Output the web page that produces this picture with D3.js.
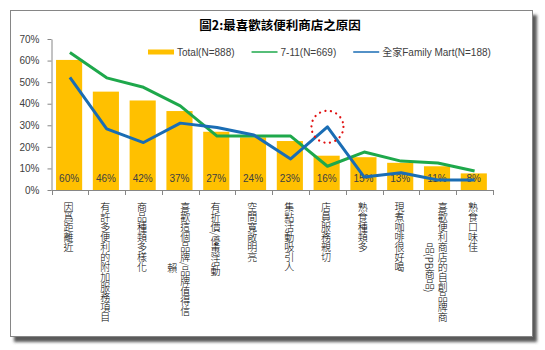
<!DOCTYPE html>
<html><head><meta charset="utf-8">
<script src="https://cdn.jsdelivr.net/npm/d3@7"></script>
<style>
html,body{margin:0;padding:0;background:#fff;}
svg{display:block;}
</style></head>
<body>
<svg id="chart" width="545" height="350"></svg>
<script>
const title = "圖2:最喜歡該便利商店之原因";
const categories = ["因爲距離近","有許多便利的附加服務項目","商品種類多樣化","喜歡這個品牌/品牌值得信賴","有折價/優惠活動","空間寬敞明亮","集點活動吸引人","店員服務親切","熟食種類多","現煮咖啡很好喝","喜歡便利商店的自創品牌商品(PB商品)","熟食口味佳"];
const total  = [60.3, 45.6, 41.5, 36.6, 27.0, 24.4, 22.7, 15.9, 15.2, 12.6, 11.0, 7.7];
const seven  = [63.7, 52.0, 47.6, 39.0, 25.0, 25.0, 25.0, 11.0, 17.6, 13.4, 12.5, 8.8];
const family = [52.2, 28.3, 22.0, 31.0, 29.0, 25.5, 14.4, 29.3, 6.0, 8.0, 4.6, 4.6];
const seriesNames = ["Total(N=888)", "7-11(N=669)", "全家Family Mart(N=188)"];
const yTicks = [0, 10, 20, 30, 40, 50, 60, 70];
const highlightIndex = 7;

const colors = {bar:"#FFC000", seven:"#1EA84B", family:"#1A6DB4", axis:"#868686", text:"#404040"};
const latin = "'Liberation Sans','Noto Sans CJK TC',sans-serif";
const cjk = "'Noto Sans CJK TC','Liberation Sans',sans-serif";

const svg = d3.select("#chart");

// frame with shadow
const defs = svg.append("defs");
const f = defs.append("filter").attr("id","sh").attr("x","-5%").attr("y","-5%").attr("width","115%").attr("height","115%");
f.append("feDropShadow").attr("dx",4).attr("dy",5).attr("stdDeviation",1.4).attr("flood-color","#4a4a4a").attr("flood-opacity",0.9);
svg.append("rect").attr("x",10.5).attr("y",10.5).attr("width",522).attr("height",326)
  .attr("fill","#fff").attr("stroke","#868686").attr("stroke-width",1).attr("filter","url(#sh)");

const x = d3.scaleBand().domain(categories).range([51.5, 493]).padding(0);
const y = d3.scaleLinear().domain([0, 70]).range([190, 39]);
const cx = c => x(c) + x.bandwidth()/2;
const barW = x.bandwidth()*0.71;

// title
svg.append("text").attr("x",280).attr("y",30).attr("text-anchor","middle")
  .attr("font-family",cjk).attr("font-weight","bold").attr("font-size",12.5).attr("fill","#000").text(title);

// bars
svg.append("g").selectAll("rect").data(categories).join("rect")
  .attr("x", c => cx(c) - barW/2 - 0.8).attr("width", barW)
  .attr("y", (c,i) => y(total[i])).attr("height", (c,i) => y(0) - y(total[i]))
  .attr("fill", colors.bar);

// bar labels
svg.append("g").selectAll("text").data(categories).join("text")
  .attr("x", c => cx(c) - 0.8).attr("y", 181.5).attr("text-anchor","middle")
  .attr("font-family",latin).attr("font-size",10).attr("fill",colors.text)
  .text((c,i) => Math.round(total[i]) + "%");

// lines
const line = d3.line().x((d,i) => cx(categories[i])).y(d => y(d));
svg.append("path").datum(seven).attr("d", line).attr("fill","none")
  .attr("stroke", colors.seven).attr("stroke-width", 3).attr("stroke-linejoin","round");
svg.append("path").datum(family).attr("d", line).attr("fill","none")
  .attr("stroke", colors.family).attr("stroke-width", 3).attr("stroke-linejoin","round");

// highlight circle
svg.append("circle").attr("cx", cx(categories[highlightIndex])).attr("cy", y(family[highlightIndex]))
  .attr("r", 16).attr("fill","none").attr("stroke","#E01010").attr("stroke-width",2.2)
  .attr("stroke-linecap","round").attr("stroke-dasharray","0.1 5.5");

// y axis
const yAxis = d3.axisLeft(y).tickValues(yTicks).tickFormat(d => d + "%").tickSize(4).tickPadding(8).tickSizeOuter(0);
const gy = svg.append("g").attr("transform","translate(51.5,0)").call(yAxis);
gy.selectAll("path,line").attr("stroke", colors.axis);
gy.selectAll("text").attr("font-family",latin).attr("font-size",10).attr("fill",colors.text);

// x axis
const gx = svg.append("g");
gx.append("line").attr("x1", x.range()[0]).attr("x2", x.range()[1]).attr("y1", y(0)+0.5).attr("y2", y(0)+0.5).attr("stroke", colors.axis);
const bounds = categories.map(c => x(c)).concat([x.range()[1]]);
gx.selectAll("line.t").data(bounds).join("line").attr("class","t")
  .attr("x1", d => Math.round(d)+0.5).attr("x2", d => Math.round(d)+0.5)
  .attr("y1", y(0)).attr("y2", y(0)+5).attr("stroke", colors.axis);

// vertical category labels
const maxChars = 12, lineH = 13, labelTop = 202;
categories.forEach(c => {
  const chars = Array.from(c);
  const lines = [];
  for (let i = 0; i < chars.length; i += maxChars) lines.push(chars.slice(i, i+maxChars).join(""));
  const n = lines.length;
  const firstLen = Math.min(chars.length, maxChars) * 10;
  lines.forEach((ln, i) => {
    const t = svg.append("text")
      .attr("x", cx(c) - 1.5 + (n-1)*lineH/2 - i*lineH)
      .attr("font-family", cjk).attr("font-size", 10).attr("font-weight", 300).attr("fill","#000")
      .style("writing-mode","vertical-rl").style("text-orientation","mixed")
      .text(ln);
    if (i === 0) t.attr("y", labelTop);
    else t.attr("y", labelTop + firstLen/2 + 6).attr("text-anchor","middle");
  });
});

// legend
let lx = 148;
const ly = 52;
seriesNames.forEach((name, i) => {
  if (i === 0) {
    svg.append("rect").attr("x", lx).attr("y", ly-2.5).attr("width", 26).attr("height", 5).attr("fill", colors.bar);
  } else {
    svg.append("line").attr("x1", lx).attr("x2", lx+26).attr("y1", ly).attr("y2", ly)
      .attr("stroke", i === 1 ? colors.seven : colors.family).attr("stroke-width", 1.5);
  }
  const t = svg.append("text").attr("x", lx + 29).attr("y", ly + 3.5)
    .attr("font-family", latin).attr("font-size", 10).attr("fill", colors.text).text(name);
  lx = lx + 29 + t.node().getComputedTextLength() + 17;
});
</script>
</body></html>
